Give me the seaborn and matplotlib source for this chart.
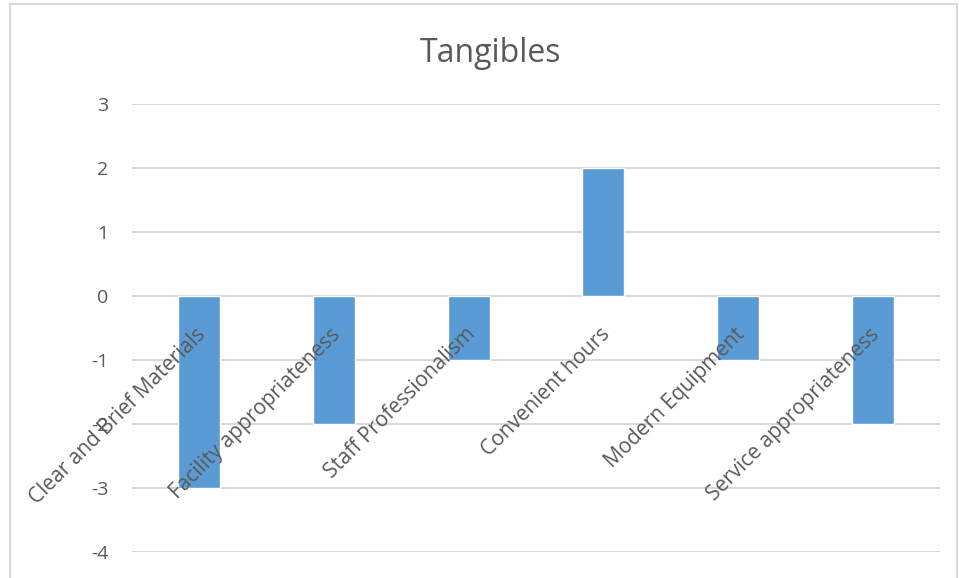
import matplotlib
matplotlib.use("Agg")
import matplotlib.pyplot as plt
import matplotlib.transforms as mtransforms
from matplotlib.patches import Rectangle
import seaborn as sns
import pandas as pd

categories = [
    "Clear and Brief Materials",
    "Facility appropriateness",
    "Staff Professionalism",
    "Convenient hours",
    "Modern Equipment",
    "Service appropriateness",
]
scores = [-3, -2, -1, 2, -1, -2]
y_ticks = [3, 2, 1, 0, -1, -2, -3, -4]

sns.set_theme(style="white")
plt.rcParams["font.family"] = ["Open Sans", "DejaVu Sans"]

text_color = "#595959"
grid_color = "#d9d9d9"
bar_color = "#5b9bd5"

df = pd.DataFrame({"category": categories, "score": scores})

fig = plt.figure(figsize=(9.59, 5.78), dpi=100)
ax = fig.add_axes([132 / 959, 1 - 552 / 578, (940 - 132) / 959, (552 - 104) / 578])

sns.barplot(data=df, x="category", y="score", color=bar_color, width=0.31,
            saturation=1, ax=ax, zorder=3)

ax.set_ylim(-4, 3)
ax.set_xlim(-0.5, len(categories) - 0.5)
ax.set_yticks(y_ticks)
ax.set_yticklabels([str(t) for t in y_ticks])
ax.yaxis.grid(True, color=grid_color, linewidth=1.5, zorder=0)
ax.set_axisbelow(True)
for s in ax.spines.values():
    s.set_visible(False)
ax.tick_params(axis="y", length=0, pad=17, labelsize=14, labelcolor=text_color)
ax.set_xticks([])
ax.set_xlabel("")
ax.set_ylabel("")

# category labels hang below the zero line, rotated 45 degrees
offset = mtransforms.ScaledTranslation(-4 / 100, -28 / 100, fig.dpi_scale_trans)
for i, name in enumerate(categories):
    ax.text(i, 0, name, transform=ax.transData + offset, rotation=45,
            rotation_mode="anchor", ha="right", va="top", fontsize=15,
            color=text_color, zorder=4)

fig.text(490 / 959, 1 - 53 / 578, "Tangibles", ha="center", va="center",
         fontsize=23, color=text_color)

# chart frame
fig.patches.append(Rectangle((10 / 959, -0.1), (957 - 10) / 959, 1.1 - 4 / 578,
                             transform=fig.transFigure, fill=False,
                             edgecolor=grid_color, linewidth=1.5))

fig.savefig("out.png", dpi=100)
